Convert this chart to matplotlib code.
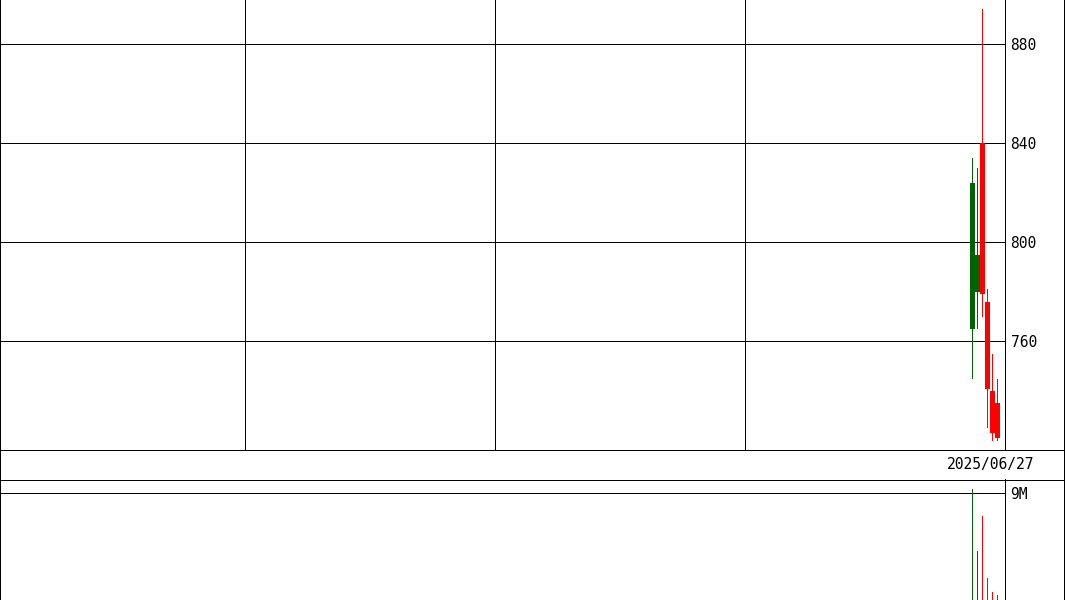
import matplotlib
matplotlib.use("Agg")
import matplotlib.pyplot as plt
from matplotlib.lines import Line2D

W, H = 1065, 600
DPI = 100
PX = 72.0 / DPI  # one pixel in points

# daily candles (slot index on a 201-slot axis, 5 px per slot)
days = [194, 195, 196, 197, 198, 199]
opens = [765, 780, 840, 776, 740, 735]
closes = [824, 795, 779, 741, 723, 721]
highs = [834, 830, 894, 781, 755, 745]
lows = [745, 765, 770, 725, 720, 720]
volumes_m = [9.3, 4.1, 7.0, 1.8, 0.6, 0.35]

price_ticks = [760, 800, 840, 880]
price_tick_labels = ["760", "800", "840", "880"]
vol_ticks = [9]
vol_tick_labels = ["9M"]
vgrid_slots = [49, 99, 149]
last_date = "2025/06/27"

UP = "#006400"
DOWN = "#ff0000"
MONO = "DejaVu Sans Mono"
WICK_W = 0.2  # one pixel in slot units

plt.rcParams["lines.antialiased"] = False
plt.rcParams["patch.antialiased"] = False


def frac(x0, y0, x1, y1):
    # pixel box (top-left origin) -> figure fraction rect
    return [x0 / W, 1 - y1 / H, (x1 - x0) / W, (y1 - y0) / H]


fig = plt.figure(figsize=(W / DPI, H / DPI), dpi=DPI)
fig.patch.set_facecolor("white")

colors = [UP if c >= o else DOWN for o, c in zip(opens, closes)]
centers = [d + 0.5 for d in days]

# price panel
ax = fig.add_axes(frac(0, 0, 1005, 449.5))
ax.set_xlim(0, 201)
ax.set_ylim(716.4, 897.8)
for y in price_ticks:
    ax.axhline(y, color="black", lw=PX, zorder=1)
for x in vgrid_slots:
    ax.axvline(x, color="black", lw=PX, zorder=1)
ax.bar(centers, [h - l for h, l in zip(highs, lows)], bottom=lows, width=WICK_W,
       color=colors, linewidth=0, zorder=2)
ax.bar(days, [abs(c - o) for o, c in zip(opens, closes)],
       bottom=[min(o, c) for o, c in zip(opens, closes)], width=1.0,
       align="edge", color=colors, linewidth=0, zorder=3)
ax.yaxis.tick_right()
ax.set_yticks(price_ticks)
ax.set_yticklabels(price_tick_labels, family=MONO, fontsize=10.5)
ax.tick_params(axis="y", length=0, pad=4)
ax.set_xticks([])
ax.spines["top"].set_visible(False)
for s in ["left", "right", "bottom"]:
    ax.spines[s].set_linewidth(PX)

# date strip
ax_d = fig.add_axes(frac(0, 449.5, 1064.5, 479.5))
ax_d.set_xticks([])
ax_d.set_yticks([])
for s in ax_d.spines.values():
    s.set_linewidth(PX)
ax_d.text(1034 / 1064, 0.5, last_date, transform=ax_d.transAxes, ha="right",
          va="center", family=MONO, fontsize=10.5)

# volume panel
ax_v = fig.add_axes(frac(0, 479.5, 1005, 600))
ax_v.set_xlim(0, 201)
ax_v.set_ylim(-0.04, 10.1)
ax_v.axhline(vol_ticks[0], color="black", lw=PX, zorder=1)
ax_v.bar(centers, volumes_m, width=WICK_W, color=colors, linewidth=0, zorder=2)
ax_v.yaxis.tick_right()
ax_v.set_yticks(vol_ticks)
ax_v.set_yticklabels(vol_tick_labels, family=MONO, fontsize=10.5)
ax_v.tick_params(axis="y", length=0, pad=4)
ax_v.set_xticks([])
ax_v.spines["bottom"].set_visible(False)
for s in ["left", "right", "top"]:
    ax_v.spines[s].set_linewidth(PX)

# outer right frame
fig.add_artist(Line2D([1064 / W, 1064 / W], [0, 1], transform=fig.transFigure,
                      color="black", lw=PX))

fig.savefig("out.png", dpi=DPI)
